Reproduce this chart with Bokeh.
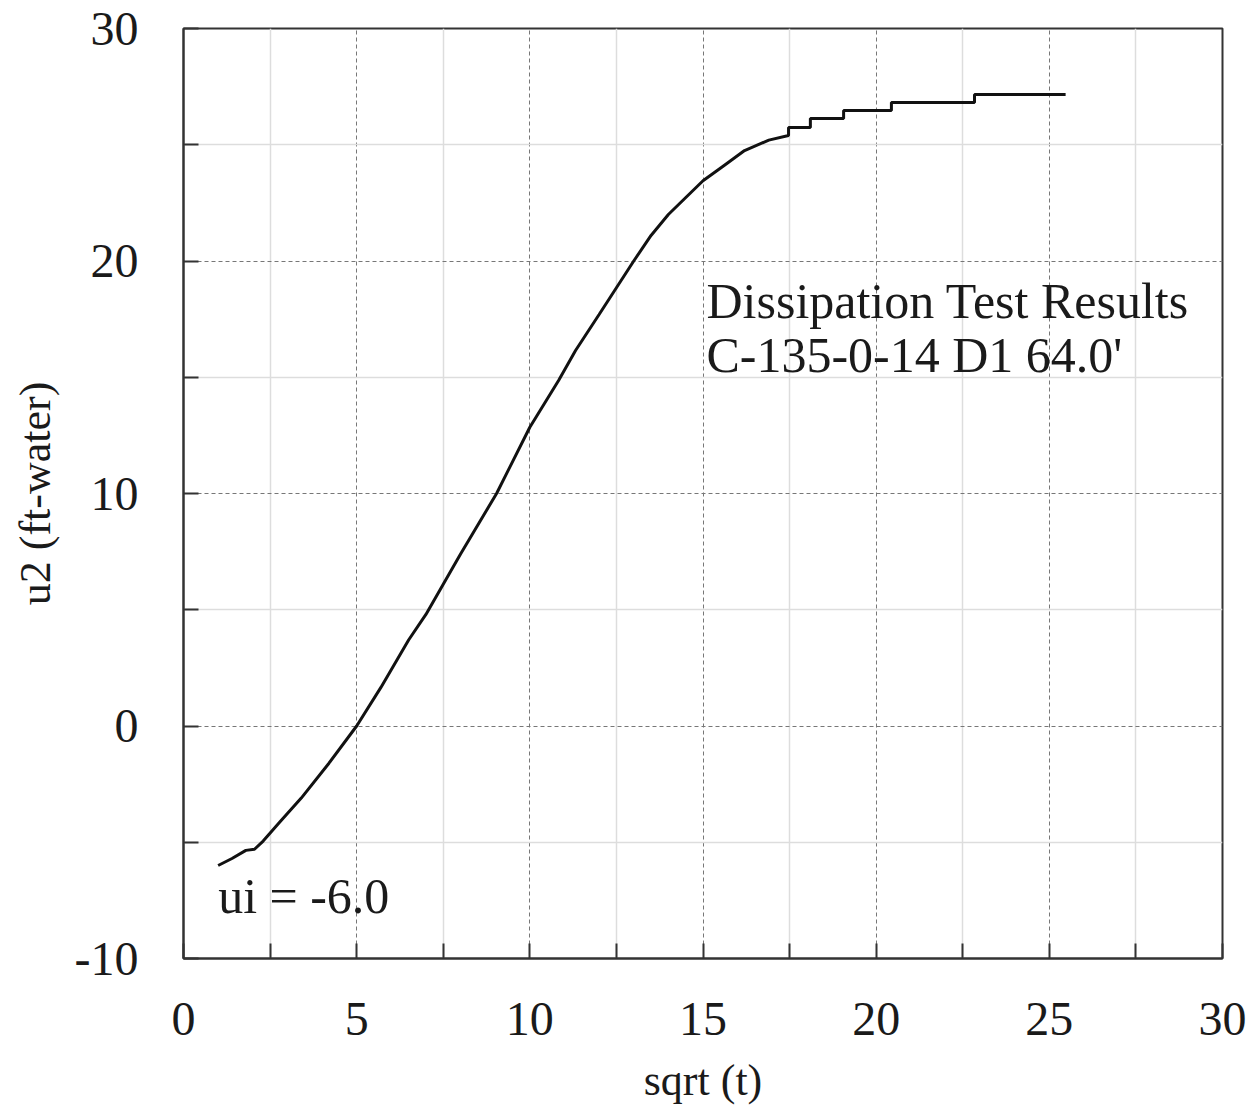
from bokeh.plotting import figure
from bokeh.models import FixedTicker, Label, Range1d
from bokeh.embed import file_html
from bokeh.resources import INLINE

# Data
sqrt_t = [1.0, 1.4, 1.8, 2.05, 2.3, 2.8, 3.4, 4.2, 5.0, 5.7, 6.5, 7.0, 7.5, 8.0,
          9.04, 10.0, 10.83, 11.32, 12.0, 13.0, 13.5, 14.0, 15.0, 15.6, 16.2, 16.9,
          17.47, 17.47, 18.1, 18.1, 19.06, 19.06, 20.44, 20.44, 22.84, 22.84, 25.47]
u2 = [-6.0, -5.7, -5.35, -5.3, -4.95, -4.1, -3.1, -1.6, 0.0, 1.66, 3.7, 4.8, 6.1, 7.4,
      10.0, 12.85, 14.86, 16.15, 17.7, 20.0, 21.1, 22.0, 23.45, 24.1, 24.75, 25.2,
      25.4, 25.74, 25.74, 26.13, 26.13, 26.47, 26.47, 26.82, 26.82, 27.16, 27.16]

x_major = [0, 5, 10, 15, 20, 25, 30]
x_minor = [2.5, 7.5, 12.5, 17.5, 22.5, 27.5]
y_major = [-10, 0, 10, 20, 30]
y_minor = [-5, 5, 15, 25]
y_labels = ["-10", "0", "10", "20", "30"]

title_lines = ["Dissipation Test Results", "C-135-0-14 D1 64.0'"]
ui_text = "ui = -6.0"

FONT = "Liberation Serif"

p = figure(width=1252, height=1112, output_backend="svg", toolbar_location=None,
           x_range=Range1d(0, 30), y_range=Range1d(-10, 30),
           min_border_left=183, min_border_right=30, min_border_top=28,
           min_border_bottom=154, x_axis_label="sqrt (t)", y_axis_label="u2 (ft-water)")
p.background_fill_color = "white"
p.border_fill_color = "white"
p.outline_line_color = "#333333"
p.outline_line_width = 2

p.xaxis.ticker = FixedTicker(ticks=x_major, minor_ticks=x_minor)
p.yaxis.ticker = FixedTicker(ticks=y_major, minor_ticks=y_minor)
p.yaxis.major_label_overrides = {v: s for v, s in zip(y_major, y_labels)}

for ax in (p.xaxis, p.yaxis):
    ax.axis_line_color = "#333333"
    ax.axis_line_width = 2
    ax.major_tick_in = 15
    ax.major_tick_out = 0
    ax.minor_tick_in = 15
    ax.minor_tick_out = 0
    ax.major_tick_line_color = "#333333"
    ax.minor_tick_line_color = "#333333"
    ax.major_tick_line_width = 2
    ax.minor_tick_line_width = 2
    ax.major_label_text_font = FONT
    ax.major_label_text_font_size = "48px"
    ax.major_label_text_color = "#1a1a1a"
    ax.axis_label_text_font = FONT
    ax.axis_label_text_font_size = "44px"
    ax.axis_label_text_font_style = "normal"
    ax.axis_label_text_color = "#1a1a1a"

p.xaxis.major_label_standoff = 44
p.xaxis.axis_label_standoff = 18
p.yaxis.major_label_standoff = 45
p.yaxis.axis_label_standoff = 12

for g in (p.xgrid, p.ygrid):
    g.grid_line_color = "#777777"
    g.grid_line_dash = "4 3"
    g.grid_line_width = 1
    g.minor_grid_line_color = "#dddddd"
    g.minor_grid_line_width = 1.5

p.line(sqrt_t, u2, line_color="#111111", line_width=3)

p.add_layout(Label(x=15.1, y=18.27, text=title_lines[0], text_font=FONT,
                   text_font_size="50px", text_color="#1a1a1a", text_baseline="alphabetic"))
p.add_layout(Label(x=15.1, y=15.95, text=title_lines[1], text_font=FONT,
                   text_font_size="50px", text_color="#1a1a1a", text_baseline="alphabetic"))
p.add_layout(Label(x=1.0, y=-7.3, text=ui_text, text_font=FONT,
                   text_font_size="50px", text_color="#1a1a1a", text_baseline="alphabetic"))

open("out.html", "w").write(file_html(p, INLINE))
